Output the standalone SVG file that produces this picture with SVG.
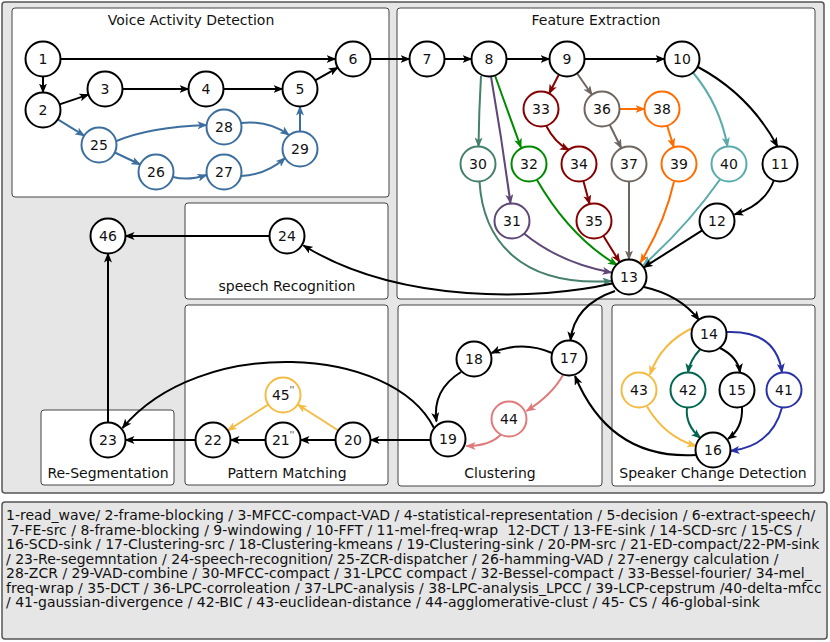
<svg xmlns="http://www.w3.org/2000/svg" width="830" height="642" viewBox="0 0 830 642">
<style>
.box{fill:#fff;stroke:#444;stroke-width:1}
.title{font-family:"DejaVu Sans",sans-serif;font-size:14px;fill:#111;text-anchor:middle}
.nd circle{fill:#fff;stroke-width:2}
.nd text{font-family:"DejaVu Sans",sans-serif;font-size:14px;fill:#111;text-anchor:middle}
.e{fill:none;stroke-width:2}
.k{stroke:#000}.bl{stroke:#3d6f9e}.t30{stroke:#45806c}.pu{stroke:#5e4878}.gr{stroke:#008a00}.dr{stroke:#850000}.gy{stroke:#6f6660}.or{stroke:#ff6c00}.t40{stroke:#5aabab}.ye{stroke:#f4bc45}.pk{stroke:#e07b7b}.g42{stroke:#00664f}.b41{stroke:#2a33a6}
.leg{font-family:"DejaVu Sans",sans-serif;font-size:14px;fill:#111;white-space:pre}
.sup{font-size:8px}
</style>
<defs>
<marker id="mk" viewBox="0 0 10 8" refX="9" refY="4" markerWidth="10" markerHeight="8" markerUnits="userSpaceOnUse" orient="auto"><path d="M0,0 L10,4 L0,8 L2.5,4 z" fill="#000"/></marker>
<marker id="mbl" viewBox="0 0 10 8" refX="9" refY="4" markerWidth="10" markerHeight="8" markerUnits="userSpaceOnUse" orient="auto"><path d="M0,0 L10,4 L0,8 L2.5,4 z" fill="#3d6f9e"/></marker>
<marker id="mt30" viewBox="0 0 10 8" refX="9" refY="4" markerWidth="10" markerHeight="8" markerUnits="userSpaceOnUse" orient="auto"><path d="M0,0 L10,4 L0,8 L2.5,4 z" fill="#45806c"/></marker>
<marker id="mpu" viewBox="0 0 10 8" refX="9" refY="4" markerWidth="10" markerHeight="8" markerUnits="userSpaceOnUse" orient="auto"><path d="M0,0 L10,4 L0,8 L2.5,4 z" fill="#5e4878"/></marker>
<marker id="mgr" viewBox="0 0 10 8" refX="9" refY="4" markerWidth="10" markerHeight="8" markerUnits="userSpaceOnUse" orient="auto"><path d="M0,0 L10,4 L0,8 L2.5,4 z" fill="#008a00"/></marker>
<marker id="mdr" viewBox="0 0 10 8" refX="9" refY="4" markerWidth="10" markerHeight="8" markerUnits="userSpaceOnUse" orient="auto"><path d="M0,0 L10,4 L0,8 L2.5,4 z" fill="#850000"/></marker>
<marker id="mgy" viewBox="0 0 10 8" refX="9" refY="4" markerWidth="10" markerHeight="8" markerUnits="userSpaceOnUse" orient="auto"><path d="M0,0 L10,4 L0,8 L2.5,4 z" fill="#6f6660"/></marker>
<marker id="mor" viewBox="0 0 10 8" refX="9" refY="4" markerWidth="10" markerHeight="8" markerUnits="userSpaceOnUse" orient="auto"><path d="M0,0 L10,4 L0,8 L2.5,4 z" fill="#ff6c00"/></marker>
<marker id="mt40" viewBox="0 0 10 8" refX="9" refY="4" markerWidth="10" markerHeight="8" markerUnits="userSpaceOnUse" orient="auto"><path d="M0,0 L10,4 L0,8 L2.5,4 z" fill="#5aabab"/></marker>
<marker id="mye" viewBox="0 0 10 8" refX="9" refY="4" markerWidth="10" markerHeight="8" markerUnits="userSpaceOnUse" orient="auto"><path d="M0,0 L10,4 L0,8 L2.5,4 z" fill="#f4bc45"/></marker>
<marker id="mpk" viewBox="0 0 10 8" refX="9" refY="4" markerWidth="10" markerHeight="8" markerUnits="userSpaceOnUse" orient="auto"><path d="M0,0 L10,4 L0,8 L2.5,4 z" fill="#e07b7b"/></marker>
<marker id="mg42" viewBox="0 0 10 8" refX="9" refY="4" markerWidth="10" markerHeight="8" markerUnits="userSpaceOnUse" orient="auto"><path d="M0,0 L10,4 L0,8 L2.5,4 z" fill="#00664f"/></marker>
<marker id="mb41" viewBox="0 0 10 8" refX="9" refY="4" markerWidth="10" markerHeight="8" markerUnits="userSpaceOnUse" orient="auto"><path d="M0,0 L10,4 L0,8 L2.5,4 z" fill="#2a33a6"/></marker>
<clipPath id="legclip"><rect x="3" y="503" width="823" height="135"/></clipPath>
</defs>

<g id="frame">
<rect x="2" y="2" width="822" height="491" rx="3" fill="#e6e6e6" stroke="#555" stroke-width="1.5"/>
</g>
<g id="clusters">
<rect class="box" x="12" y="8" width="377" height="189" rx="3"/>
<text class="title" x="191" y="25">Voice Activity Detection</text>
<rect class="box" x="397" y="8" width="418" height="291" rx="3"/>
<text class="title" x="596" y="25">Feature Extraction</text>
<rect class="box" x="185" y="203" width="203" height="96" rx="3"/>
<text class="title" x="287" y="291">speech Recognition</text>
<rect class="box" x="185" y="305" width="203" height="180" rx="3"/>
<text class="title" x="287" y="478">Pattern Matching</text>
<rect class="box" x="41" y="410" width="133" height="75" rx="3"/>
<text class="title" x="108" y="478">Re-Segmentation</text>
<rect class="box" x="398" y="305" width="204" height="181" rx="3"/>
<text class="title" x="500" y="478">Clustering</text>
<rect class="box" x="612" y="305" width="203" height="181" rx="3"/>
<text class="title" x="713" y="478">Speaker Change Detection</text>
</g>

<g id="edges">
<path class="e k" marker-end="url(#mk)" d="M60.5,59 L335.5,59"/>
<path class="e k" marker-end="url(#mk)" d="M43,76.5 L43,92.5"/>
<path class="e k" marker-end="url(#mk)" d="M59.6,104.4 L88.4,94.6"/>
<path class="e k" marker-end="url(#mk)" d="M122.5,89 L188.5,89"/>
<path class="e k" marker-end="url(#mk)" d="M223.5,89 L282.5,89"/>
<path class="e k" marker-end="url(#mk)" d="M315.2,80.4 L337.8,67.6"/>
<path class="e bl" marker-end="url(#mbl)" d="M57.8,119.3 L84.2,135.7"/>
<path class="e bl" marker-end="url(#mbl)" d="M116.5,141 Q150,127 206.5,125"/>
<path class="e bl" marker-end="url(#mbl)" d="M114.8,152.5 L140.2,164.5"/>
<path class="e bl" marker-end="url(#mbl)" d="M173,177 Q188,181 206.5,175"/>
<path class="e bl" marker-end="url(#mbl)" d="M241,176 Q266,175 285,158"/>
<path class="e bl" marker-end="url(#mbl)" d="M241,123 Q268,120 289,135"/>
<path class="e bl" marker-end="url(#mbl)" d="M300,131.5 L300,106.5"/>

<path class="e k" marker-end="url(#mk)" d="M370.5,59 L409.5,59"/>
<path class="e k" marker-end="url(#mk)" d="M444.5,59 L471.5,59"/>
<path class="e k" marker-end="url(#mk)" d="M506.5,59 L549.5,59"/>
<path class="e k" marker-end="url(#mk)" d="M584.5,59 L664.5,59"/>
<path class="e t30" marker-end="url(#mt30)" d="M481,76 Q479,110 478.5,146.5"/>
<path class="e pu" marker-end="url(#mpu)" d="M491,76.5 Q502,140 510.5,203.5"/>
<path class="e gr" marker-end="url(#mgr)" d="M495,75.5 Q508,112 521,147.5"/>
<path class="e dr" marker-end="url(#mdr)" d="M558.9,74.5 L549.1,93.5"/>
<path class="e gy" marker-end="url(#mgy)" d="M577,73.3 L592,94.7"/>
<path class="e dr" marker-end="url(#mdr)" d="M546,125.5 Q555,143 569,150"/>
<path class="e dr" marker-end="url(#mdr)" d="M583.4,180.9 L589.6,204.1"/>
<path class="e dr" marker-end="url(#mdr)" d="M603.3,235.8 L619.7,262.2"/>
<path class="e gy" marker-end="url(#mgy)" d="M609.7,124.7 L621.3,148.3"/>
<path class="e gy" marker-end="url(#mgy)" d="M629,181.5 L629,259.5"/>
<path class="e or" marker-end="url(#mor)" d="M619.5,109 L644.5,109"/>
<path class="e or" marker-end="url(#mor)" d="M667.2,125.7 L673.8,147.3"/>
<path class="e or" marker-end="url(#mor)" d="M674,181.5 Q665,222 640.5,262.5"/>
<path class="e t40" marker-end="url(#mt40)" d="M693,72.5 Q720,105 727.5,146.5"/>
<path class="e t40" marker-end="url(#mt40)" d="M720,179.5 Q688,225 643.5,265"/>
<path class="e k" marker-end="url(#mk)" d="M698,67 Q750,95 777.5,146.5"/>
<path class="e k" marker-end="url(#mk)" d="M774,180 Q765,205 734.5,214.5"/>
<path class="e k" marker-end="url(#mk)" d="M702.2,230.4 L643.8,267.4"/>
<path class="e t30" marker-end="url(#mt30)" d="M479.5,181.5 C483,240 520,287 611.5,281"/>
<path class="e pu" marker-end="url(#mpu)" d="M524,233.5 Q560,263 611.5,272.5"/>
<path class="e gr" marker-end="url(#mgr)" d="M537,180 Q570,237 617,265"/>

<path class="e k" marker-end="url(#mk)" d="M612,283.5 C540,300 400,305 303.5,245.5"/>
<path class="e k" marker-end="url(#mk)" d="M615,291 Q574,305 570.5,340.5"/>
<path class="e k" marker-end="url(#mk)" d="M644,287 Q680,295 699,320"/>
<path class="e ye" marker-end="url(#mye)" d="M692.5,328 Q661,343 650,374.5"/>
<path class="e g42" marker-end="url(#mg42)" d="M700,349.5 Q690,360 688,372.5"/>
<path class="e k" marker-end="url(#mk)" d="M720,348 Q738,357 740,372.5"/>
<path class="e b41" marker-end="url(#mb41)" d="M726.5,332 Q776,330 782,372.5"/>
<path class="e ye" marker-end="url(#mye)" d="M647,406.5 Q665,437 696,446"/>
<path class="e g42" marker-end="url(#mg42)" d="M687,407.5 Q685,425 700.5,438"/>
<path class="e k" marker-end="url(#mk)" d="M742,407 Q743,428 728,439"/>
<path class="e b41" marker-end="url(#mb41)" d="M782,407.5 Q772,446 730.5,451"/>
<path class="e k" marker-end="url(#mk)" d="M696,455 Q610,460 575,376"/>
<path class="e k" marker-end="url(#mk)" d="M552,353 Q522,340 491.5,353"/>
<path class="e k" marker-end="url(#mk)" d="M461,372 Q432,390 436.5,421.5"/>
<path class="e pk" marker-end="url(#mpk)" d="M563,375 Q552,395 526.5,411"/>
<path class="e pk" marker-end="url(#mpk)" d="M501,434.5 Q490,446 466.5,446"/>
<path class="e k" marker-end="url(#mk)" d="M430.5,440 L370.5,440"/>
<path class="e k" marker-end="url(#mk)" d="M434,428 C392,345 200,335 122.5,428"/>
<path class="e k" marker-end="url(#mk)" d="M335.5,440 L300.5,440"/>
<path class="e k" marker-end="url(#mk)" d="M265.5,440 L230.5,440"/>
<path class="e k" marker-end="url(#mk)" d="M195.5,440 L125.5,440"/>
<path class="e ye" marker-end="url(#mye)" d="M338.3,430.5 L297.7,404.5"/>
<path class="e ye" marker-end="url(#mye)" d="M268.3,404.5 L227.7,430.5"/>
<path class="e k" marker-end="url(#mk)" d="M108,422.5 L108,253.5"/>
<path class="e k" marker-end="url(#mk)" d="M269.5,236 L125.5,236"/>
</g>

<g id="n1" class="nd"><circle cx="43" cy="59" r="17.5" stroke="#000"/><text x="43" y="64">1</text></g>
<g id="n2" class="nd"><circle cx="43" cy="110" r="17.5" stroke="#000"/><text x="43" y="115">2</text></g>
<g id="n3" class="nd"><circle cx="105" cy="89" r="17.5" stroke="#000"/><text x="105" y="94">3</text></g>
<g id="n4" class="nd"><circle cx="206" cy="89" r="17.5" stroke="#000"/><text x="206" y="94">4</text></g>
<g id="n5" class="nd"><circle cx="300" cy="89" r="17.5" stroke="#000"/><text x="300" y="94">5</text></g>
<g id="n6" class="nd"><circle cx="353" cy="59" r="17.5" stroke="#000"/><text x="353" y="64">6</text></g>
<g id="n25" class="nd"><circle cx="99" cy="145" r="17.5" stroke="#3d6f9e"/><text x="99" y="150">25</text></g>
<g id="n26" class="nd"><circle cx="156" cy="172" r="17.5" stroke="#3d6f9e"/><text x="156" y="177">26</text></g>
<g id="n27" class="nd"><circle cx="224" cy="172" r="17.5" stroke="#3d6f9e"/><text x="224" y="177">27</text></g>
<g id="n28" class="nd"><circle cx="224" cy="127" r="17.5" stroke="#3d6f9e"/><text x="224" y="132">28</text></g>
<g id="n29" class="nd"><circle cx="300" cy="149" r="17.5" stroke="#3d6f9e"/><text x="300" y="154">29</text></g>

<g id="n7" class="nd"><circle cx="427" cy="59" r="17.5" stroke="#000"/><text x="427" y="64">7</text></g>
<g id="n8" class="nd"><circle cx="489" cy="59" r="17.5" stroke="#000"/><text x="489" y="64">8</text></g>
<g id="n9" class="nd"><circle cx="567" cy="59" r="17.5" stroke="#000"/><text x="567" y="64">9</text></g>
<g id="n10" class="nd"><circle cx="682" cy="59" r="17.5" stroke="#000"/><text x="682" y="64">10</text></g>
<g id="n33" class="nd"><circle cx="541" cy="109" r="17.5" stroke="#850000"/><text x="541" y="114">33</text></g>
<g id="n36" class="nd"><circle cx="602" cy="109" r="17.5" stroke="#6f6660"/><text x="602" y="114">36</text></g>
<g id="n38" class="nd"><circle cx="662" cy="109" r="17.5" stroke="#ff6c00"/><text x="662" y="114">38</text></g>
<g id="n30" class="nd"><circle cx="478" cy="164" r="17.5" stroke="#45806c"/><text x="478" y="169">30</text></g>
<g id="n32" class="nd"><circle cx="529" cy="164" r="17.5" stroke="#008a00"/><text x="529" y="169">32</text></g>
<g id="n34" class="nd"><circle cx="579" cy="164" r="17.5" stroke="#850000"/><text x="579" y="169">34</text></g>
<g id="n37" class="nd"><circle cx="629" cy="164" r="17.5" stroke="#6f6660"/><text x="629" y="169">37</text></g>
<g id="n39" class="nd"><circle cx="679" cy="164" r="17.5" stroke="#ff6c00"/><text x="679" y="169">39</text></g>
<g id="n40" class="nd"><circle cx="729" cy="164" r="17.5" stroke="#5aabab"/><text x="729" y="169">40</text></g>
<g id="n11" class="nd"><circle cx="780" cy="164" r="17.5" stroke="#000"/><text x="780" y="169">11</text></g>
<g id="n31" class="nd"><circle cx="512" cy="221" r="17.5" stroke="#5e4878"/><text x="512" y="226">31</text></g>
<g id="n35" class="nd"><circle cx="594" cy="221" r="17.5" stroke="#850000"/><text x="594" y="226">35</text></g>
<g id="n12" class="nd"><circle cx="717" cy="221" r="17.5" stroke="#000"/><text x="717" y="226">12</text></g>
<g id="n13" class="nd"><circle cx="629" cy="277" r="17.5" stroke="#000"/><text x="629" y="282">13</text></g>

<g id="n46" class="nd"><circle cx="108" cy="236" r="17.5" stroke="#000"/><text x="108" y="241">46</text></g>
<g id="n24" class="nd"><circle cx="287" cy="236" r="17.5" stroke="#000"/><text x="287" y="241">24</text></g>
<g id="n23" class="nd"><circle cx="108" cy="440" r="17.5" stroke="#000"/><text x="108" y="445">23</text></g>
<g id="n22" class="nd"><circle cx="213" cy="440" r="17.5" stroke="#000"/><text x="213" y="445">22</text></g>
<g id="n21" class="nd"><circle cx="283" cy="440" r="17.5" stroke="#000"/><text x="283" y="445">21<tspan class="sup" dy="-7">''</tspan></text></g>
<g id="n20" class="nd"><circle cx="353" cy="440" r="17.5" stroke="#000"/><text x="353" y="445">20</text></g>
<g id="n45" class="nd"><circle cx="283" cy="395" r="17.5" stroke="#f4bc45"/><text x="283" y="400">45<tspan class="sup" dy="-7">''</tspan></text></g>

<g id="n17" class="nd"><circle cx="569" cy="358" r="17.5" stroke="#000"/><text x="569" y="363">17</text></g>
<g id="n18" class="nd"><circle cx="474" cy="359" r="17.5" stroke="#000"/><text x="474" y="364">18</text></g>
<g id="n19" class="nd"><circle cx="448" cy="439" r="17.5" stroke="#000"/><text x="448" y="444">19</text></g>
<g id="n44" class="nd"><circle cx="509" cy="419" r="17.5" stroke="#e07b7b"/><text x="509" y="424">44</text></g>

<g id="n14" class="nd"><circle cx="709" cy="334" r="17.5" stroke="#000"/><text x="709" y="339">14</text></g>
<g id="n43" class="nd"><circle cx="639" cy="390" r="17.5" stroke="#f4bc45"/><text x="639" y="395">43</text></g>
<g id="n42" class="nd"><circle cx="688" cy="390" r="17.5" stroke="#00664f"/><text x="688" y="395">42</text></g>
<g id="n15" class="nd"><circle cx="737" cy="390" r="17.5" stroke="#000"/><text x="737" y="395">15</text></g>
<g id="n41" class="nd"><circle cx="784" cy="390" r="17.5" stroke="#2a33a6"/><text x="784" y="395">41</text></g>
<g id="n16" class="nd"><circle cx="713" cy="450" r="17.5" stroke="#000"/><text x="713" y="455">16</text></g>

<g id="legend">
<rect x="2" y="502" width="825" height="137" rx="3" fill="#e6e6e6" stroke="#555" stroke-width="1.5"/>
<g clip-path="url(#legclip)">
<text class="leg" x="6" y="520">1-read_wave/ 2-frame-blocking / 3-MFCC-compact-VAD / 4-statistical-representation / 5-decision / 6-extract-speech/</text>
<text class="leg" x="6" y="534.5"> 7-FE-src / 8-frame-blocking / 9-windowing / 10-FFT / 11-mel-freq-wrap  12-DCT / 13-FE-sink / 14-SCD-src / 15-CS /</text>
<text class="leg" x="6" y="549">16-SCD-sink / 17-Clustering-src / 18-Clustering-kmeans / 19-Clustering-sink / 20-PM-src / 21-ED-compact/22-PM-sink</text>
<text class="leg" x="6" y="563.5">/ 23-Re-segemntation / 24-speech-recognition/ 25-ZCR-dispatcher / 26-hamming-VAD / 27-energy calculation /</text>
<text class="leg" x="6" y="578">28-ZCR / 29-VAD-combine / 30-MFCC-compact / 31-LPCC compact / 32-Bessel-compact / 33-Bessel-fourier/ 34-mel_</text>
<text class="leg" x="6" y="592.5">freq-wrap / 35-DCT / 36-LPC-corroleation / 37-LPC-analysis / 38-LPC-analysis_LPCC / 39-LCP-cepstrum /40-delta-mfcc</text>
<text class="leg" x="6" y="607">/ 41-gaussian-divergence / 42-BIC / 43-euclidean-distance / 44-agglomerative-clust / 45- CS / 46-global-sink</text>
</g>
</g>
</svg>
